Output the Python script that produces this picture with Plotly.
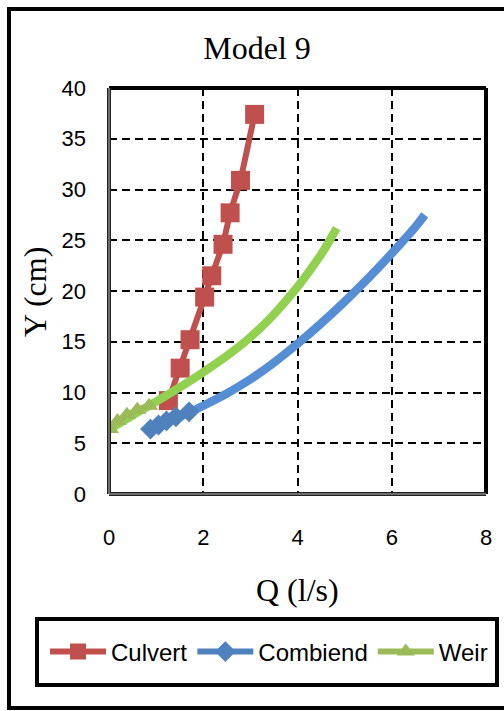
import plotly.graph_objects as go

# ---- data ----
culvert_q = [1.26, 1.51, 1.72, 2.03, 2.18, 2.42, 2.57, 2.79, 3.09]
culvert_y = [9.2, 12.4, 15.2, 19.4, 21.5, 24.6, 27.7, 30.9, 37.4]

combiend_q = [0.88, 1.05, 1.22, 1.42, 1.70]
combiend_y = [6.4, 6.8, 7.2, 7.6, 8.1]
combiend_curve_q = [0.88, 1.0, 1.5, 2.0, 2.5, 3.0, 3.5, 4.0, 4.5, 5.0, 5.5, 6.0, 6.5, 6.7]
combiend_curve_y = [6.4, 6.6, 7.6, 8.7, 9.9, 11.3, 12.95, 14.8, 16.8, 18.95, 21.25, 23.7, 26.3, 27.5]

weir_q = [0.02, 0.18, 0.38, 0.60, 0.85]
weir_y = [6.4, 7.2, 7.8, 8.3, 8.7]
weir_curve_q = [0.02, 0.5, 1.0, 1.5, 2.0, 2.5, 3.0, 3.5, 4.0, 4.5, 4.83]
weir_curve_y = [6.4, 7.75, 9.1, 10.5, 12.0, 13.6, 15.45, 17.7, 20.4, 23.6, 26.2]

x_ticks = [0, 2, 4, 6, 8]
y_ticks = [0, 5, 10, 15, 20, 25, 30, 35, 40]

RED = "#C0504D"
BLUE = "#4F81BD"
BLUE_CURVE = "#558ED5"
GREEN = "#9BBB59"
GREEN_CURVE = "#92D050"

# plot area in pixels
L, R, T, B = 109, 486, 88, 494
W, H = 504, 711
PW, PH = R - L, B - T


def px(x):
    return (x - L) / PW


def py(y):
    return (B - y) / PH


fig = go.Figure()

fig.add_trace(go.Scatter(
    x=culvert_q, y=culvert_y, mode="lines+markers", name="Culvert",
    line=dict(color=RED, width=6),
    marker=dict(symbol="square", size=19, color=RED),
))
fig.add_trace(go.Scatter(
    x=combiend_curve_q, y=combiend_curve_y, mode="lines", showlegend=False,
    line=dict(color=BLUE_CURVE, width=8.5, shape="spline", smoothing=1.0),
    hoverinfo="skip",
))
fig.add_trace(go.Scatter(
    x=combiend_q, y=combiend_y, mode="lines+markers", name="Combiend",
    line=dict(color=BLUE, width=6),
    marker=dict(symbol="diamond", size=16, color=BLUE),
))
fig.add_trace(go.Scatter(
    x=weir_curve_q, y=weir_curve_y, mode="lines", showlegend=False,
    line=dict(color=GREEN_CURVE, width=8.5, shape="spline", smoothing=1.0),
    hoverinfo="skip",
))
fig.add_trace(go.Scatter(
    x=weir_q, y=weir_y, mode="lines+markers", name="Weir",
    line=dict(color=GREEN, width=6),
    marker=dict(symbol="triangle-up", size=16, color=GREEN),
))

shapes = [
    # outer chart border
    dict(type="rect", xref="paper", yref="paper",
         x0=px(9), x1=px(507), y0=py(708), y1=py(9),
         line=dict(color="black", width=4), layer="below"),
    # legend box
    dict(type="rect", xref="paper", yref="paper",
         x0=px(37), x1=px(497), y0=py(685), y1=py(619),
         line=dict(color="black", width=4)),
    # plot frame top & right
    dict(type="line", xref="paper", yref="paper", x0=0, x1=1, y0=1, y1=1,
         line=dict(color="black", width=4)),
    dict(type="line", xref="paper", yref="paper", x0=1, x1=1, y0=0, y1=1,
         line=dict(color="black", width=4)),
    # left & bottom double-ish lines
    dict(type="line", xref="paper", yref="paper", x0=0, x1=0, y0=0, y1=1,
         line=dict(color="#222222", width=4)),
    dict(type="line", xref="paper", yref="paper", x0=0, x1=1, y0=0, y1=0,
         line=dict(color="#222222", width=4)),
    dict(type="line", xref="paper", yref="paper", x0=0, x1=0, y0=0, y1=1,
         line=dict(color="#888888", width=1.5)),
    dict(type="line", xref="paper", yref="paper", x0=0, x1=1, y0=0, y1=0,
         line=dict(color="#888888", width=1.5)),
]

annotations = [
    dict(text="Q (l/s)", xref="paper", yref="paper", x=px(297), y=py(590),
         xanchor="center", yanchor="middle", showarrow=False,
         font=dict(family="Liberation Serif", size=32, color="black")),
    dict(text="Y (cm)", xref="paper", yref="paper", x=px(35), y=py(292),
         xanchor="center", yanchor="middle", showarrow=False, textangle=-90,
         font=dict(family="Liberation Serif", size=32, color="black")),
]

fig.update_layout(
    width=W, height=H,
    margin=dict(l=L, r=W - R, t=T, b=H - B, pad=0),
    paper_bgcolor="white", plot_bgcolor="white",
    title=dict(text="Model 9", x=257 / W, y=1 - 48 / H, xanchor="center",
               yanchor="middle",
               font=dict(family="Liberation Serif", size=32, color="black")),
    showlegend=True,
    legend=dict(orientation="h", x=px(45), y=py(652), xanchor="left",
                yanchor="middle", bgcolor="rgba(0,0,0,0)",
                font=dict(family="Liberation Sans", size=24, color="black"),
                itemwidth=56, traceorder="normal"),
    shapes=shapes,
    annotations=annotations,
    font=dict(family="Liberation Sans", color="black"),
)

fig.update_xaxes(
    range=[0, 8], tickvals=x_ticks, ticktext=[str(v) for v in x_ticks],
    showgrid=True, gridcolor="black", gridwidth=2, griddash="8px,5px",
    zeroline=False, showline=False, ticks="",
    tickfont=dict(family="Liberation Sans", size=22, color="black"),
    ticklabelstandoff=28,
)
fig.update_yaxes(
    range=[0, 40], tickvals=y_ticks, ticktext=[str(v) for v in y_ticks],
    showgrid=True, gridcolor="black", gridwidth=2, griddash="8px,5px",
    zeroline=False, showline=False, ticks="",
    tickfont=dict(family="Liberation Sans", size=22, color="black"),
    ticklabelstandoff=22,
)

fig.write_html("out.html")
